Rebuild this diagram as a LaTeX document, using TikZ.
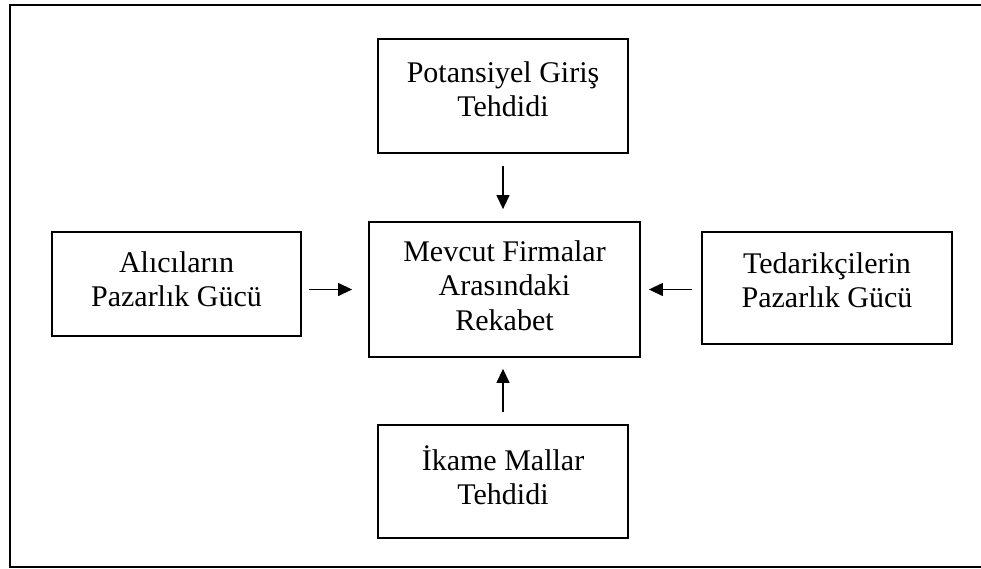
\documentclass[tikz,border=0pt]{standalone}
\usepackage{fontspec}
\setmainfont{Liberation Serif}
\usetikzlibrary{arrows.meta}
% box contents: width, height, space above the first line, text
\newcommand\forcetext[4]{\parbox[c][#2][t]{#1}{\centering\vspace*{#3}\hbox{}#4\par}}
\begin{document}
\begin{tikzpicture}[x=1pt,y=-1pt,
  forcebox/.style={draw, line width=1.8pt, inner sep=0pt,
    font=\fontsize{30}{34.5}\selectfont},
  arr/.style={-{Triangle[length=14pt,width=13pt]}, line width=1.3pt}]
\useasboundingbox (0,0) rectangle (981,568);

% outer frame (its right side runs past the page edge)
\draw[line width=2pt] (981,4.5) -| (10,567) -- (981,567);

% the five forces
\node[forcebox] (top) at (503,96)
  {\forcetext{250pt}{114pt}{8.5pt}{Potansiyel Giriş\\Tehdidi}};
\node[forcebox] (lft) at (176.5,284)
  {\forcetext{249pt}{104pt}{5.5pt}{Alıcıların\\Pazarlık Gücü}};
\node[forcebox] (ctr) at (504.5,289.5)
  {\forcetext{271pt}{135pt}{4.5pt}{Mevcut Firmalar\\Arasındaki\\Rekabet}};
\node[forcebox] (rgt) at (827,288)
  {\forcetext{250pt}{112pt}{6.5pt}{Tedarikçilerin\\Pazarlık Gücü}};
\node[forcebox] (bot) at (503,481.5)
  {\forcetext{250pt}{113pt}{10.5pt}{İkame Mallar\\Tehdidi}};

% arrows pointing at the rivalry box
\draw[arr, shorten <=12pt, shorten >=12pt] (top.south) -- (top.south |- ctr.north);
\draw[arr, shorten <=12pt, shorten >=11pt] (bot.north) -- (bot.north |- ctr.south);
\draw[arr, shorten <=7pt, shorten >=16pt] (lft.east |- ctr.west) -- (ctr.west);
\draw[arr, shorten <=9pt, shorten >=8pt] (rgt.west |- ctr.east) -- (ctr.east);
\end{tikzpicture}
\end{document}
